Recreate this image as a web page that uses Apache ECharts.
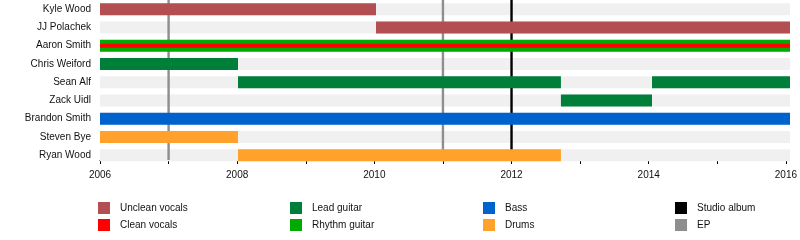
<!DOCTYPE html>
<html>
<head>
<meta charset="utf-8">
<script src="https://cdn.jsdelivr.net/npm/echarts@6/dist/echarts.min.js"></script>
<style>html,body{margin:0;padding:0;background:#fff;}#c{width:800px;height:240px;}</style>
</head>
<body>
<div id="c"></div>
<script>
const members = ['Kyle Wood','JJ Polachek','Aaron Smith','Chris Weiford','Sean Alf','Zack Uidl','Brandon Smith','Steven Bye','Ryan Wood'];
const uncleanVocals = [['Kyle Wood',2006,2010],['JJ Polachek',2010,2016]];
const cleanVocals = [['Aaron Smith',2006,2016]];
const leadGuitar = [['Chris Weiford',2006,2008],['Sean Alf',2008,2012.68],['Zack Uidl',2012.68,2014],['Sean Alf',2014,2016]];
const rhythmGuitar = [['Aaron Smith',2006,2016]];
const bass = [['Brandon Smith',2006,2016]];
const drums = [['Steven Bye',2006,2008],['Ryan Wood',2008,2012.68]];
const studioAlbums = [2012];
const eps = [2007,2011];
const yearStart = 2006, yearEnd = 2016;

const FONT = '"Liberation Sans", Arial, sans-serif';
const chart = echarts.init(document.getElementById('c'), null, {renderer:'canvas'});

function toData(arr){ return arr.map(d => [d[1], d[2], members.indexOf(d[0])]); }
function barRender(h){
  return function(params, api){
    const s = api.coord([api.value(0), api.value(2)]);
    const e = api.coord([api.value(1), api.value(2)]);
    return {type:'rect', shape:{x:s[0], y:s[1]-h/2, width:e[0]-s[0], height:h}, style:api.style()};
  };
}
function lineRender(params, api){
  const a = api.coord([api.value(0), 0]);
  const b = api.coord([api.value(0), 1]);
  return {type:'line', shape:{x1:a[0], y1:a[1], x2:b[0], y2:b[1]}, style:{stroke:api.visual('color'), lineWidth:2.4}};
}
function barSeries(name, arr, color, h, z){
  return {name, type:'custom', xAxisIndex:0, yAxisIndex:0, renderItem:barRender(h), encode:{x:[0,1], y:2},
    itemStyle:{color}, data:toData(arr), z, silent:true};
}
function legendAt(left, names){
  return {left, top:202, orient:'vertical', padding:0, itemWidth:12, itemHeight:12, itemGap:5, icon:'rect', selectedMode:false,
    textStyle:{fontSize:10, fontFamily:FONT, color:'#111', padding:[0,0,0,5]}, data:names};
}

const bandH = 18.625;
const option = {
  animation:false,
  grid:[
    {left:100, right:10, top:6 - bandH/2, height:bandH*members.length},
    {left:100, right:10, top:0, height:160}
  ],
  xAxis:[
    {gridIndex:0, type:'value', min:yearStart, max:yearEnd, show:false},
    {gridIndex:1, type:'value', min:yearStart, max:yearEnd, interval:1,
      axisLine:{show:true, lineStyle:{color:'#000', width:1}},
      axisTick:{show:true, length:4, lineStyle:{color:'#000'}},
      splitLine:{show:false},
      axisLabel:{margin:10, fontSize:10, fontFamily:FONT, color:'#111', formatter:v => (v % 2 === 0 ? String(v) : '')}}
  ],
  yAxis:[
    {gridIndex:0, type:'category', data:members, inverse:true,
      axisLine:{show:false}, axisTick:{show:false}, splitLine:{show:false},
      axisLabel:{margin:9, fontSize:10, fontFamily:FONT, color:'#111'}},
    {gridIndex:1, type:'value', min:0, max:1, show:false}
  ],
  legend:[
    legendAt(98, ['Unclean vocals','Clean vocals']),
    legendAt(290, ['Lead guitar','Rhythm guitar']),
    legendAt(483, ['Bass','Drums']),
    legendAt(675, ['Studio album','EP'])
  ],
  series:[
    {type:'custom', xAxisIndex:0, yAxisIndex:0, renderItem:barRender(12), encode:{x:[0,1], y:2},
      itemStyle:{color:'#f0f0f0'}, data:members.map((m,i)=>[yearStart, yearEnd, i]), z:1, silent:true},
    {name:'Studio album', type:'custom', xAxisIndex:1, yAxisIndex:1, renderItem:lineRender, encode:{x:0},
      itemStyle:{color:'#000000'}, data:studioAlbums.map(v=>[v]), z:2, silent:true},
    {name:'EP', type:'custom', xAxisIndex:1, yAxisIndex:1, renderItem:lineRender, encode:{x:0},
      itemStyle:{color:'#8e8e8e'}, data:eps.map(v=>[v]), z:2, silent:true},
    barSeries('Unclean vocals', uncleanVocals, '#b34f52', 12, 3),
    barSeries('Rhythm guitar', rhythmGuitar, '#00aa00', 12, 3),
    barSeries('Clean vocals', cleanVocals, '#ff0000', 4, 4),
    barSeries('Lead guitar', leadGuitar, '#007f3a', 12, 3),
    barSeries('Bass', bass, '#0062cc', 12, 3),
    barSeries('Drums', drums, '#ffa12a', 12, 3)
  ]
};
chart.setOption(option);
</script>
</body>
</html>
